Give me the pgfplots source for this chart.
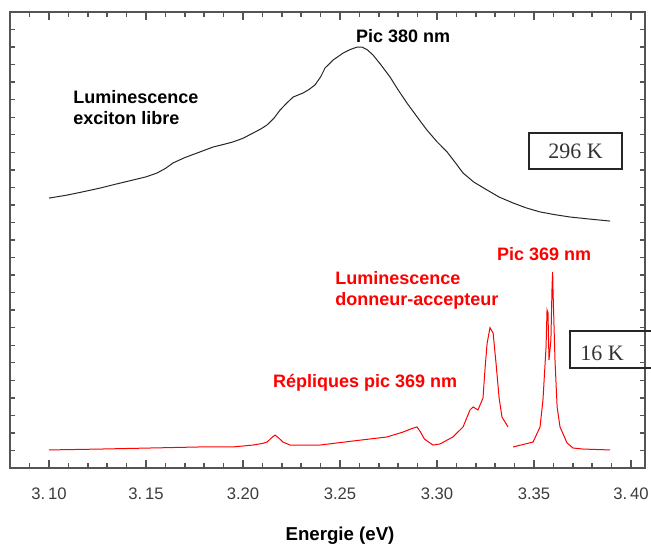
\documentclass[border=0pt]{standalone}
\usepackage{fontspec}
\setmainfont{Liberation Sans}
\newfontfamily\serifbox{Liberation Serif}
\usepackage{pgfplots}
\pgfplotsset{compat=1.18}
\definecolor{axgray}{HTML}{555555}
\definecolor{lblgray}{HTML}{3C3C3C}

% 296 K spectrum (black)
\pgfplotstableread{
x y
3.1000 15.39
3.1093 15.56
3.1180 15.76
3.1263 15.96
3.1350 16.20
3.1433 16.42
3.1500 16.60
3.1557 16.82
3.1600 17.08
3.1639 17.39
3.1700 17.70
3.1778 18.02
3.1845 18.30
3.1900 18.45
3.1948 18.59
3.2000 18.80
3.2052 19.10
3.2090 19.32
3.2124 19.56
3.2160 19.95
3.2191 20.41
3.2225 20.80
3.2258 21.15
3.2309 21.38
3.2340 21.58
3.2371 21.84
3.2400 22.30
3.2423 22.81
3.2464 23.26
3.2516 23.66
3.2550 23.85
3.2588 24.00
3.2613 24.00
3.2640 23.85
3.2670 23.55
3.2710 23.00
3.2758 22.29
3.2800 21.55
3.2845 20.81
3.2900 19.98
3.2948 19.27
3.3000 18.60
3.3052 18.02
3.3095 17.40
3.3134 16.82
3.3190 16.30
3.3258 15.85
3.3320 15.45
3.3392 15.11
3.3460 14.83
3.3531 14.60
3.3610 14.44
3.3686 14.31
3.3790 14.19
3.3892 14.08
}\warm

% 16 K spectrum, first part (red)
\pgfplotstableread{
x y
3.1000 1.03
3.1263 1.08
3.1521 1.14
3.1778 1.20
3.1948 1.20
3.2052 1.31
3.2100 1.40
3.2124 1.48
3.2145 1.70
3.2165 1.88
3.2185 1.70
3.2206 1.48
3.2242 1.31
3.2397 1.31
3.2567 1.54
3.2742 1.77
3.2825 2.05
3.2870 2.25
3.2897 2.34
3.2915 2.05
3.2935 1.65
3.2979 1.31
3.3015 1.37
3.3082 1.77
3.3134 2.34
3.3155 2.90
3.3170 3.31
3.3186 3.48
3.3211 3.31
3.3237 3.99
3.3247 5.59
3.3258 7.10
3.3273 8.00
3.3289 7.70
3.3304 5.99
3.3320 3.99
3.3335 2.90
3.3366 2.34
}\coldA

% 16 K spectrum, second part (red)
\pgfplotstableread{
x y
3.3392 1.20
3.3495 1.48
3.3531 2.34
3.3546 3.88
3.3562 6.90
3.3567 9.01
3.3572 8.84
3.3577 6.16
3.3587 7.30
3.3593 10.43
3.3596 11.18
3.3598 10.04
3.3608 6.16
3.3619 3.48
3.3634 2.34
3.3670 1.43
3.3701 1.14
3.3753 1.08
3.3892 1.03
}\coldB

\begin{document}
\begin{tikzpicture}
\begin{axis}[
    name=ax,
    scale only axis,
    width=381pt,
    height=273.6pt,
    xmin=3.0799, xmax=3.4072,
    ymin=0, ymax=26,
    clip=false,
    axis line style={axgray, line width=0.8pt},
    tick style={color=axgray, line width=0.8pt},
    xtick={3.10,3.15,3.20,3.25,3.30,3.35,3.40},
    xticklabels={3.\,10,3.\,15,3.20,3.25,3.30,3.35,3.\,40},
    ytick={1,2,...,25},
    yticklabels={},
    major tick length=3pt,
    xticklabel style={font=\fontsize{10}{12}\selectfont, text=lblgray, anchor=base, yshift=-18.6pt},
]
\addplot[black!85, line width=0.6pt] table[x=x, y=y] {\warm};
\addplot[red, line width=0.6pt] table[x=x, y=y] {\coldA};
\addplot[red, line width=0.6pt] table[x=x, y=y] {\coldB};

% x tick marks along the bottom and top frame
\draw[axgray, line width=0.9pt]
  (axis cs:3.10,0) -- (axis cs:3.10,0.46) (axis cs:3.15,0) -- (axis cs:3.15,0.46)
  (axis cs:3.20,0) -- (axis cs:3.20,0.46) (axis cs:3.25,0) -- (axis cs:3.25,0.46)
  (axis cs:3.30,0) -- (axis cs:3.30,0.46) (axis cs:3.35,0) -- (axis cs:3.35,0.46)
  (axis cs:3.40,0) -- (axis cs:3.40,0.46)
  (axis cs:3.10,26) -- (axis cs:3.10,25.54) (axis cs:3.15,26) -- (axis cs:3.15,25.54)
  (axis cs:3.20,26) -- (axis cs:3.20,25.54) (axis cs:3.25,26) -- (axis cs:3.25,25.54)
  (axis cs:3.30,26) -- (axis cs:3.30,25.54) (axis cs:3.35,26) -- (axis cs:3.35,25.54)
  (axis cs:3.40,26) -- (axis cs:3.40,25.54);
\draw[axgray, line width=0.9pt]
  (axis cs:3.08,0) -- (axis cs:3.08,0.29) (axis cs:3.09,0) -- (axis cs:3.09,0.29)
  (axis cs:3.11,0) -- (axis cs:3.11,0.29) (axis cs:3.12,0) -- (axis cs:3.12,0.29)
  (axis cs:3.13,0) -- (axis cs:3.13,0.29) (axis cs:3.14,0) -- (axis cs:3.14,0.29)
  (axis cs:3.16,0) -- (axis cs:3.16,0.29) (axis cs:3.17,0) -- (axis cs:3.17,0.29)
  (axis cs:3.18,0) -- (axis cs:3.18,0.29) (axis cs:3.19,0) -- (axis cs:3.19,0.29)
  (axis cs:3.21,0) -- (axis cs:3.21,0.29) (axis cs:3.22,0) -- (axis cs:3.22,0.29)
  (axis cs:3.23,0) -- (axis cs:3.23,0.29) (axis cs:3.24,0) -- (axis cs:3.24,0.29)
  (axis cs:3.26,0) -- (axis cs:3.26,0.29) (axis cs:3.27,0) -- (axis cs:3.27,0.29)
  (axis cs:3.28,0) -- (axis cs:3.28,0.29) (axis cs:3.29,0) -- (axis cs:3.29,0.29)
  (axis cs:3.31,0) -- (axis cs:3.31,0.29) (axis cs:3.32,0) -- (axis cs:3.32,0.29)
  (axis cs:3.33,0) -- (axis cs:3.33,0.29) (axis cs:3.34,0) -- (axis cs:3.34,0.29)
  (axis cs:3.36,0) -- (axis cs:3.36,0.29) (axis cs:3.37,0) -- (axis cs:3.37,0.29)
  (axis cs:3.38,0) -- (axis cs:3.38,0.29) (axis cs:3.39,0) -- (axis cs:3.39,0.29)
  (axis cs:3.08,26) -- (axis cs:3.08,25.71) (axis cs:3.09,26) -- (axis cs:3.09,25.71)
  (axis cs:3.11,26) -- (axis cs:3.11,25.71) (axis cs:3.12,26) -- (axis cs:3.12,25.71)
  (axis cs:3.13,26) -- (axis cs:3.13,25.71) (axis cs:3.14,26) -- (axis cs:3.14,25.71)
  (axis cs:3.16,26) -- (axis cs:3.16,25.71) (axis cs:3.17,26) -- (axis cs:3.17,25.71)
  (axis cs:3.18,26) -- (axis cs:3.18,25.71) (axis cs:3.19,26) -- (axis cs:3.19,25.71)
  (axis cs:3.21,26) -- (axis cs:3.21,25.71) (axis cs:3.22,26) -- (axis cs:3.22,25.71)
  (axis cs:3.23,26) -- (axis cs:3.23,25.71) (axis cs:3.24,26) -- (axis cs:3.24,25.71)
  (axis cs:3.26,26) -- (axis cs:3.26,25.71) (axis cs:3.27,26) -- (axis cs:3.27,25.71)
  (axis cs:3.28,26) -- (axis cs:3.28,25.71) (axis cs:3.29,26) -- (axis cs:3.29,25.71)
  (axis cs:3.31,26) -- (axis cs:3.31,25.71) (axis cs:3.32,26) -- (axis cs:3.32,25.71)
  (axis cs:3.33,26) -- (axis cs:3.33,25.71) (axis cs:3.34,26) -- (axis cs:3.34,25.71)
  (axis cs:3.36,26) -- (axis cs:3.36,25.71) (axis cs:3.37,26) -- (axis cs:3.37,25.71)
  (axis cs:3.38,26) -- (axis cs:3.38,25.71) (axis cs:3.39,26) -- (axis cs:3.39,25.71);

\node[font=\fontsize{10.8}{12.6}\selectfont\bfseries] at (axis cs:3.2825,24.63) {Pic 380 nm};
\node[font=\fontsize{10.8}{12.6}\selectfont\bfseries, anchor=west, align=left, inner sep=0pt] at (axis cs:3.1124,20.55) {Luminescence\\exciton libre};
\node[draw=black!85, line width=0.9pt, minimum width=55.8pt, minimum height=21.6pt, font=\serifbox\fontsize{13.2}{15}\selectfont, text=black!80] at (axis cs:3.3714,18.07) {296 K};

\node[font=\fontsize{10.8}{12.6}\selectfont\bfseries, text=red] at (axis cs:3.3552,12.20) {Pic 369 nm};
\node[font=\fontsize{10.8}{12.6}\selectfont\bfseries, text=red, anchor=west, align=left, inner sep=0pt] at (axis cs:3.2474,10.12) {Luminescence\\donneur-accepteur};
\node[font=\fontsize{10.8}{12.6}\selectfont\bfseries, text=red] at (axis cs:3.2629,4.85) {Répliques pic 369 nm};

\draw[black!85, line width=0.9pt] (axis cs:3.4103,7.81) -- (axis cs:3.3686,7.81) -- (axis cs:3.3686,5.70) -- (axis cs:3.4103,5.70);
\node[font=\serifbox\fontsize{13.2}{15}\selectfont, text=black!80] at (axis cs:3.3851,6.56) {16 K};

\node[font=\fontsize{11.2}{13}\selectfont\bfseries, anchor=base] at (axis cs:3.250,-4.15) {Energie (eV)};
\end{axis}
\pgfresetboundingbox
\path ([shift={(-6pt,-46.8pt)}]ax.south west) rectangle ([shift={(3.6pt,7.2pt)}]ax.north east);
\end{tikzpicture}
\end{document}
